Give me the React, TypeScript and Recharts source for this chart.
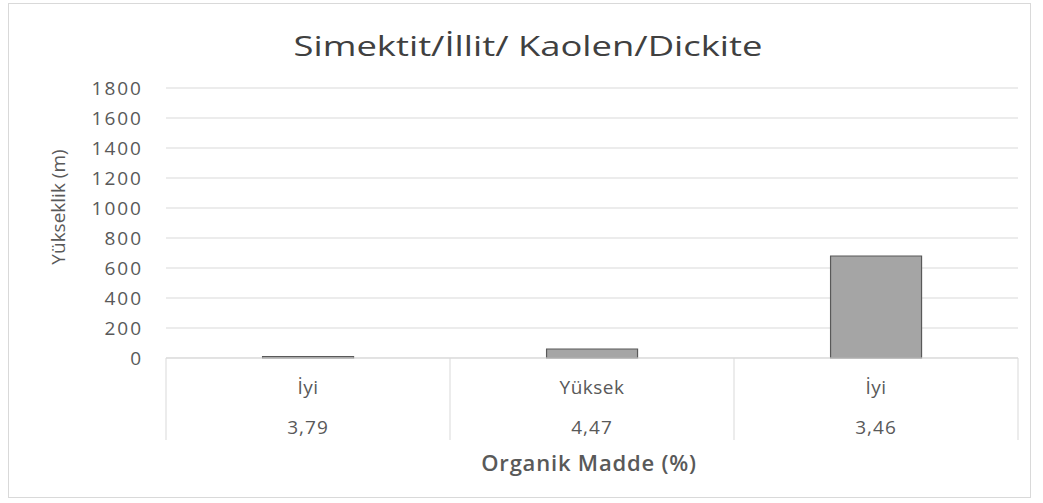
import { BarChart, Bar, XAxis, YAxis, CartesianGrid } from "recharts";

// categories: quality grade and organic matter (%) shown under each bar
const GRADES = ["İyi", "Yüksek", "İyi"];
const ORGANIC = ["3,79", "4,47", "3,46"];
// elevation (m)
const HEIGHTS = [10, 60, 680];
const Y_TICKS = [0, 200, 400, 600, 800, 1000, 1200, 1400, 1600, 1800];

const data = GRADES.map((g, i) => ({ key: `c${i}`, grade: g, organic: ORGANIC[i], height: HEIGHTS[i] }));

const FONT = "'Open Sans', sans-serif";
const TEXT = "#595959";
const GRID = "#d9d9d9";

const CategoryTick = (props: any) => {
  const { x, y, index, width, visibleTicksCount } = props;
  const band = width && visibleTicksCount ? width / visibleTicksCount : 284;
  const left = x - band / 2;
  const right = x + band / 2;
  return (
    <g>
      <line x1={left} x2={left} y1={y} y2={y + 82} stroke={GRID} />
      {index === visibleTicksCount - 1 && <line x1={right} x2={right} y1={y} y2={y + 82} stroke={GRID} />}
      <text x={x} y={y + 29} textAnchor="middle" dominantBaseline="central" fill={TEXT} fontSize={19} fontFamily={FONT} letterSpacing={0.5}>
        {GRADES[index]}
      </text>
      <text x={x} y={y + 69} textAnchor="middle" dominantBaseline="central" fill={TEXT} fontSize={19} fontFamily={FONT} letterSpacing={1}>
        {ORGANIC[index]}
      </text>
    </g>
  );
};

const App = () => {
  return (
    <div style={{ position: "absolute", left: 0, top: 0, width: 1043, height: 503, background: "#fff" }}>
      <div
        style={{
          position: "absolute",
          left: 8,
          top: 3,
          width: 1023,
          height: 495,
          border: `1px solid ${GRID}`,
          boxSizing: "border-box",
        }}
      />
      <BarChart
        width={1043}
        height={503}
        data={data}
        margin={{ top: 88, right: 25, bottom: 63, left: 0 }}
        barCategoryGap="34%"
      >
        <CartesianGrid stroke={GRID} vertical={false} />
        <XAxis
          dataKey="key"
          height={82}
          tickLine={false}
          tickSize={0}
          tickMargin={0}
          axisLine={{ stroke: GRID }}
          tick={<CategoryTick />}
          interval={0}
        />
        <YAxis
          width={166}
          domain={[0, 1800]}
          ticks={Y_TICKS}
          interval={0}
          axisLine={false}
          tickLine={false}
          tickSize={0}
          tickMargin={23}
          tick={{ fill: TEXT, fontSize: 19, fontFamily: FONT, letterSpacing: 2 }}
        />
        <Bar dataKey="height" fill="#a5a5a5" stroke="#595959" strokeWidth={1.2} isAnimationActive={false} />
      </BarChart>
      <div
        style={{
          position: "absolute",
          left: 528,
          top: 45,
          transform: "translate(-50%, -50%) scaleX(1.3)",
          fontFamily: FONT,
          fontSize: 28,
          color: "#404040",
          lineHeight: "36px",
          whiteSpace: "nowrap",
        }}
      >
        Simektit/İllit/ Kaolen/Dickite
      </div>
      <div
        style={{
          position: "absolute",
          left: 58,
          top: 207,
          transform: "translate(-50%, -50%) rotate(-90deg)",
          fontFamily: FONT,
          fontSize: 19,
          color: TEXT,
          whiteSpace: "nowrap",
          lineHeight: "24px",
        }}
      >
        Yükseklik (m)
      </div>
      <div
        style={{
          position: "absolute",
          left: 589,
          top: 462,
          transform: "translate(-50%, -50%)",
          fontFamily: FONT,
          fontSize: 22,
          fontWeight: 600,
          letterSpacing: 0.8,
          color: TEXT,
          whiteSpace: "nowrap",
          lineHeight: "28px",
        }}
      >
        Organik Madde (%)
      </div>
    </div>
  );
};

export default App;
